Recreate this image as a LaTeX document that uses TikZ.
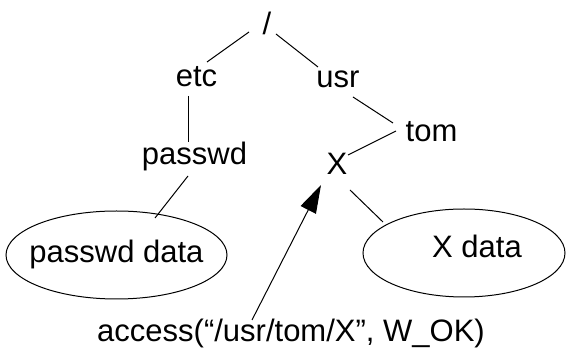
\documentclass[tikz,border=0pt]{standalone}
\usepackage{fontspec}
\setmainfont{Liberation Sans}
\usepackage{tikz}
\usetikzlibrary{shapes,arrows.meta,positioning,calc}

\begin{document}
\begin{tikzpicture}[
    x=1pt, y=-1pt,
    on grid,
    every node/.style={font=\fontsize{31}{37}\selectfont, text height=22pt, text depth=6pt, inner sep=0pt},
    blob/.style={ellipse, draw, line width=1pt, minimum width=221pt, minimum height=88pt},
    link/.style={line width=1pt},
    arrow/.style={-{Triangle[length=28pt, width=17pt]}, line width=1pt}
]
\useasboundingbox (0,0) rectangle (566,352);

\node (root) at (267,27) {/};
\node[below left=52pt and 70.5pt of root] (etc) {etc};
\node[below right=53pt and 71pt of root] (usr) {usr};
\node[below right=54pt and 93.5pt of usr] (tom) {tom};
\node[below left=33pt and 94.5pt of tom] (x) {X};
\node[below left=78pt and 2pt of etc] (passwd) {passwd};
\node[blob, below left=98pt and 78pt of passwd, label=center:passwd data] (pdata) {};
\node[blob, minimum width=202pt, below right=86pt and 127pt of x,
      label={[xshift=13pt, yshift=3pt]center:X data}] (xdata) {};
\node[below left=167pt and 46pt of x] (call) {access(“/usr/tom/X”, W\_OK)};

\draw[link] ($(root)+(-18,5)$) -- ($(etc)+(10.5,-17)$);
\draw[link] ($(root)+(9,7)$) -- ($(usr)+(-20,-13)$);
\draw[link] ($(etc)+(-8.5,17)$) -- ($(passwd)+(-6.5,-15)$);
\draw[link] ($(usr)+(15,17)$) -- ($(tom)+(-38.5,-11)$);
\draw[link] ($(tom)+(-35.5,-3)$) -- ($(x)+(11,-12)$);
\draw[link] ($(passwd)+(-6.5,19)$) -- ($(pdata)+(38.5,-37)$);
\draw[link] ($(x)+(13,23)$) -- ($(xdata)+(-81,-31)$);
\draw[arrow] ($(call)+(-39,-14)$) -- ($(x)+(-16,18)$);
\end{tikzpicture}
\end{document}
